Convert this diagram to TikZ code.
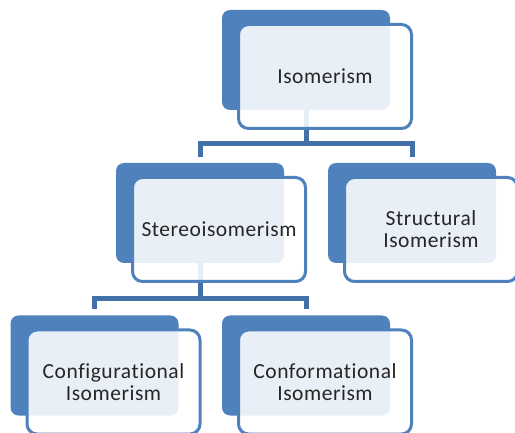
\documentclass[tikz,border=0pt]{standalone}
\usepackage{fontspec}
\setmainfont{Carlito}[Ligatures=NoCommon, LetterSpace=2.5]
\definecolor{boxblue}{RGB}{79,129,189}
\definecolor{linkblue}{RGB}{65,113,167}

\begin{document}
\begin{tikzpicture}[x=1pt,y=-1pt,
    back/.style={fill=boxblue, rounded corners=8pt, minimum width=168pt,
        minimum height=100pt, inner sep=0pt},
    front/.style={draw=boxblue, line width=3pt, fill=white, fill opacity=0.88,
        text opacity=1, rounded corners=10pt, minimum width=173pt,
        minimum height=104pt, align=center, text=black!85,
        font=\fontsize{21.5}{22}\selectfont},
    link/.style={draw=linkblue, line width=5pt, shorten >=6pt}]
            \clip (0,0) rectangle (515,433);

            % blue back boxes
            \node[back] (isoB) at (306,60) {};
            \node[back] (stereoB) at (200,213) {};
            \node[back] (structB) at (412,213) {};
            \node[back] (configB) at (94.5,365.5) {};
            \node[back] (conformB) at (306,365.5) {};

            % connectors
            \draw[link] (isoB.south) -- ++(0,33.5) -| (stereoB.north);
            \draw[link] (isoB.south) -- ++(0,33.5) -| (structB.north);
            \draw[link] (stereoB.south) -- ++(0,35) -| (configB.north);
            \draw[link] (stereoB.south) -- ++(0,35) -| (conformB.north);

            % front boxes with the texts
            \node[front] (isoF) at ([shift={(19,16.5)}]isoB.center) {Isomerism};
            \node[front] (stereoF) at ([shift={(19,16.5)}]stereoB.center) {Stereoisomerism};
            \node[front] (structF) at ([shift={(19,16.5)}]structB.center) {Structural\\Isomerism};
            \node[front] (configF) at ([shift={(19,16.5)}]configB.center) {Configurational\\Isomerism};
            \node[front] (conformF) at ([shift={(19,16.5)}]conformB.center) {Conformational\\Isomerism};
        \end{tikzpicture}
\end{document}
